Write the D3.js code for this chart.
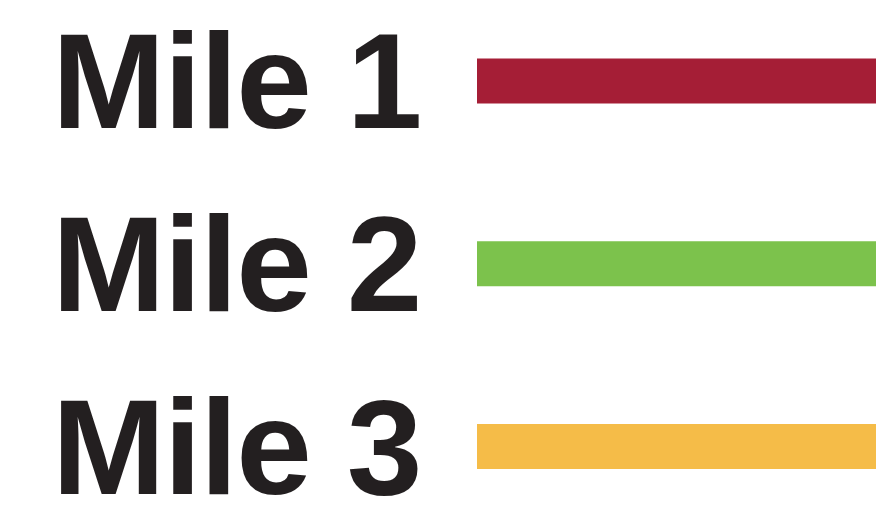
<!DOCTYPE html>
<html>
<head>
<meta charset="utf-8">
<script src="https://cdn.jsdelivr.net/npm/d3@7"></script>
<style>
  body { margin: 0; background: #fff; }
</style>
</head>
<body>
<div id="legend"></div>
<script>
// legend entries
var labels = ["Mile 1", "Mile 2", "Mile 3"];
var colors = ["#a51e36", "#7cc24c", "#f5bc48"];

var svgWidth = 883;
var svgHeight = 523;

var svg = d3.select("#legend")
    .append("svg")
    .attr("width", svgWidth)
    .attr("height", svgHeight);

// row positions (centre of each swatch)
var yScale = d3.scalePoint()
    .domain(labels)
    .range([81, 446.5]);

var color = d3.scaleOrdinal()
    .domain(labels)
    .range(colors);

var rows = svg.selectAll(".row")
    .data(labels)
    .enter()
    .append("g")
    .attr("class", "row")
    .attr("transform", d => `translate(0, ${yScale(d)})`);

// swatches
rows.append("rect")
    .attr("x", 477)
    .attr("y", -22.5)
    .attr("width", 399)
    .attr("height", 45)
    .attr("fill", d => color(d));

// labels
rows.append("text")
    .attr("x", 52)
    .attr("y", 47)
    .attr("font-family", "Liberation Sans, Arial, sans-serif")
    .attr("font-weight", "bold")
    .attr("font-size", "136px")
    .attr("letter-spacing", "-1.5px")
    .attr("fill", "#231f20")
    .text(d => d);
</script>
</body>
</html>
